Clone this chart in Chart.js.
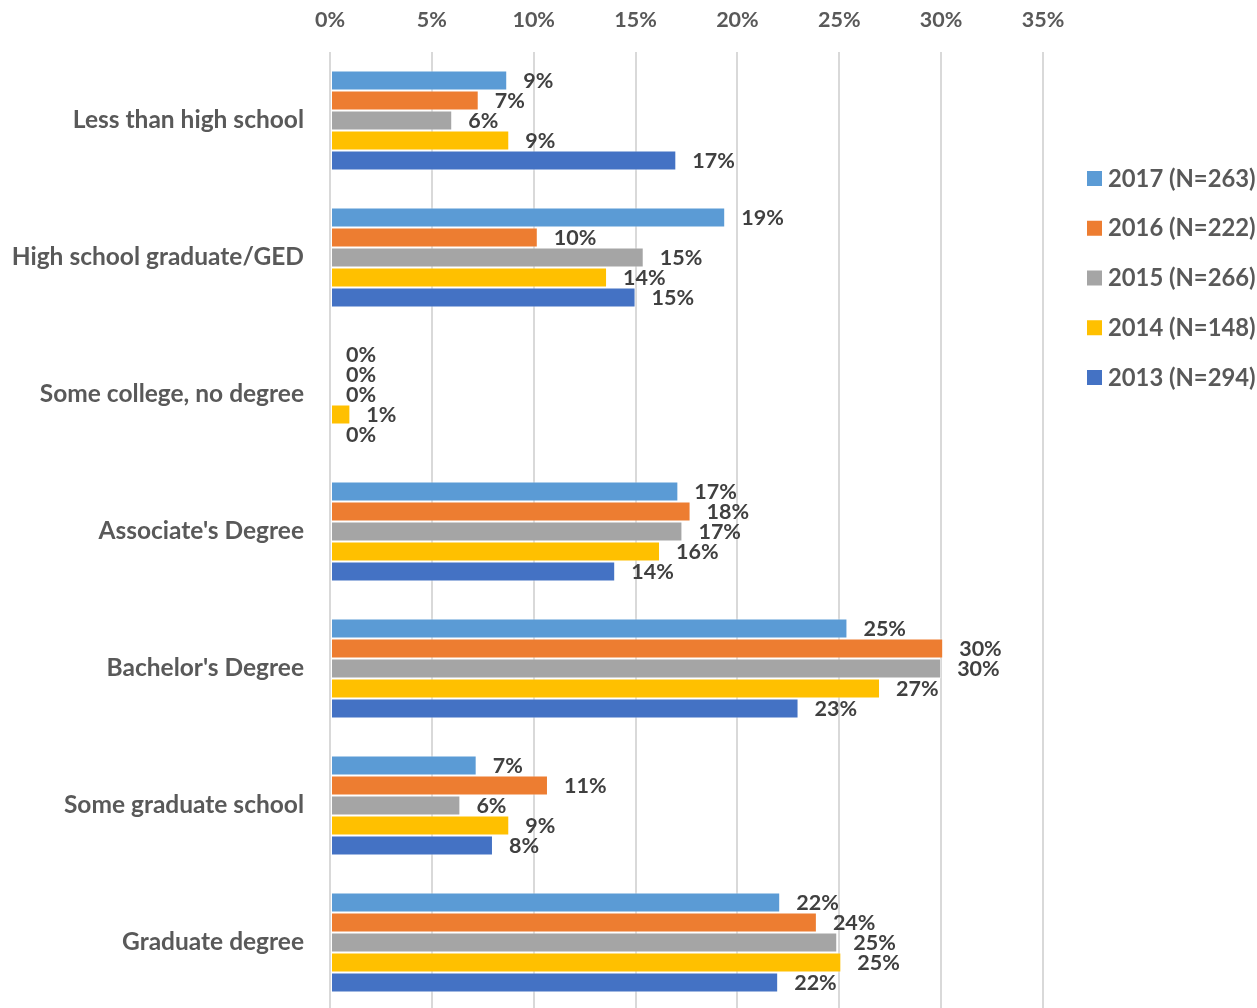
<!DOCTYPE html>
<html>
<head>
<meta charset="utf-8">
<script src="https://cdn.jsdelivr.net/npm/chart.js@4.4.0/dist/chart.umd.min.js"></script>
<style>
  html, body { margin: 0; padding: 0; background: #fff; overflow: hidden; }
  #wrap { width: 1257px; height: 1011px; }
</style>
</head>
<body>
<div id="wrap"><canvas id="main-chart" width="1257" height="1011"></canvas></div>
<script>
// Data kategori dan nilai (persen)
const categories = [
    'Less than high school',
    'High school graduate/GED',
    'Some college, no degree',
    "Associate's Degree",
    "Bachelor's Degree",
    'Some graduate school',
    'Graduate degree'
];
const seriesLabels = ['2017 (N=263)', '2016 (N=222)', '2015 (N=266)', '2014 (N=148)', '2013 (N=294)'];
const values2017 = [8.7, 19.4, 0, 17.1, 25.4, 7.2, 22.1];
const values2016 = [7.3, 10.2, 0, 17.7, 30.1, 10.7, 23.9];
const values2015 = [6.0, 15.4, 0, 17.3, 30.0, 6.4, 24.9];
const values2014 = [8.8, 13.6, 1.0, 16.2, 27.0, 8.8, 25.1];
const values2013 = [17.0, 15.0, 0, 14.0, 23.0, 8.0, 22.0];
const xTicks = [0, 5, 10, 15, 20, 25, 30, 35];

const colors = ['#5B9BD5', '#ED7D31', '#A5A5A5', '#FFC000', '#4472C4'];
const FONT = 'Lato, "Open Sans", sans-serif';

const allValues = [values2017, values2016, values2015, values2014, values2013];
const datasets = allValues.map((vals, i) => ({
    label: seriesLabels[i],
    data: vals,
    backgroundColor: colors[i],
    borderColor: 'rgba(255,255,255,0.55)',
    borderWidth: 1,
    borderSkipped: false,
    categoryPercentage: 0.73,
    barPercentage: 1.0
}));

// Label nilai di ujung bar
const valueLabels = {
    id: 'valueLabels',
    afterDatasetsDraw(chart) {
        const ctx = chart.ctx;
        ctx.save();
        ctx.font = 'bold 21.5px ' + FONT;
        ctx.fillStyle = '#404040';
        ctx.textAlign = 'left';
        ctx.textBaseline = 'middle';
        chart.data.datasets.forEach((ds, di) => {
            const meta = chart.getDatasetMeta(di);
            meta.data.forEach((bar, i) => {
                ctx.fillText(Math.round(ds.data[i]) + '%', bar.x + 16, bar.y + 1);
            });
        });
        ctx.restore();
    }
};

// Legenda di kanan
const sideLegend = {
    id: 'sideLegend',
    afterDraw(chart) {
        const ctx = chart.ctx;
        ctx.save();
        ctx.font = 'bold 23.8px ' + FONT;
        ctx.textBaseline = 'middle';
        ctx.textAlign = 'left';
        chart.data.datasets.forEach((ds, i) => {
            const y = 178 + i * 49.75;
            ctx.fillStyle = ds.backgroundColor;
            ctx.fillRect(1087, y - 7, 15, 15);
            ctx.fillStyle = '#595959';
            ctx.fillText(ds.label, 1108, y + 1);
        });
        ctx.restore();
    }
};

new Chart(document.getElementById('main-chart').getContext('2d'), {
    type: 'bar',
    data: { labels: categories, datasets: datasets },
    plugins: [valueLabels, sideLegend],
    options: {
        indexAxis: 'y',
        responsive: false,
        animation: false,
        layout: { padding: { left: 0, top: 0, right: 214, bottom: 0 } },
        scales: {
            x: {
                position: 'top',
                min: 0,
                max: 35,
                afterBuildTicks: (scale) => { scale.ticks = xTicks.map(v => ({ value: v })); },
                afterFit: (scale) => { scale.height = 52; },
                ticks: {
                    callback: (v) => v + '%',
                    color: '#595959',
                    font: { family: FONT, size: 21.5, weight: 'bold' },
                    padding: 19,
                    maxRotation: 0
                },
                grid: { color: '#D9D9D9', lineWidth: 2, drawTicks: false },
                border: { display: false }
            },
            y: {
                afterFit: (scale) => {
                    scale.width = 330;
                    scale.paddingTop = 0;
                    scale.paddingBottom = 0;
                },
                ticks: {
                    color: '#595959',
                    font: { family: FONT, size: 24.5, weight: 'bold' },
                    padding: 26
                },
                grid: { display: false, drawTicks: false },
                border: { display: false }
            }
        },
        plugins: {
            legend: { display: false },
            tooltip: { enabled: false }
        }
    }
});
</script>
</body>
</html>
